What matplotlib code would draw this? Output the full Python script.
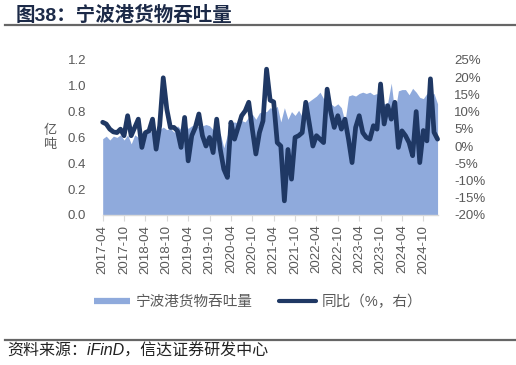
import numpy as np
import pandas as pd
from matplotlib import pyplot as plt
from matplotlib.lines import Line2D

plt.rcParams['font.family'] = ['Liberation Sans', 'Noto Sans CJK SC', 'DejaVu Sans']

# monthly data, 2017-04 .. 2025-02
months = pd.period_range('2017-04', '2025-02', freq='M').strftime('%Y-%m').tolist()

# 宁波港货物吞吐量（亿吨）
throughput = [0.59, 0.61, 0.58, 0.61, 0.60, 0.62, 0.58, 0.62, 0.55, 0.62,
              0.60, 0.64, 0.63, 0.65, 0.64, 0.65, 0.66, 0.68, 0.66, 0.67,
              0.64, 0.69, 0.66, 0.70, 0.67, 0.69, 0.70, 0.68, 0.69, 0.70,
              0.69, 0.66, 0.64, 0.63, 0.52, 0.62, 0.71, 0.72, 0.71, 0.73,
              0.72, 0.76, 0.78, 0.74, 0.79, 0.80, 0.80, 0.83, 0.82, 0.84,
              0.72, 0.83, 0.74, 0.80, 0.77, 0.81, 0.76, 0.86, 0.88, 0.90,
              0.92, 0.95, 0.90, 0.93, 0.86, 0.84, 0.86, 0.83, 0.72, 0.92,
              0.93, 0.92, 0.94, 0.95, 0.94, 0.95, 0.93, 0.94, 0.88, 0.86,
              0.87, 1.02, 0.79, 0.96, 0.97, 0.97, 0.93, 0.98, 0.95, 0.91,
              0.90, 0.94, 0.93, 0.94, 0.86]

# 同比（%）
yoy = [6.9, 6.4, 4.9, 4.1, 3.9, 4.9, 3.0, 8.8, 3.0, 5.4,
       7.8, -0.4, 3.9, 4.4, 7.8, -0.9, 5.9, 19.8, 10.7, 5.4,
       5.4, 4.4, -0.4, 8.3, -4.3, 3.0, 5.4, 9.3, 3.0, 0.0,
       2.5, -1.9, 7.8, -0.9, -6.7, -9.1, 6.9, 2.0, 5.4, 8.8,
       10.2, 12.7, 4.9, -2.3, 3.9, 7.3, 22.3, 13.3, 12.8, 1.0,
       0.0, -15.9, -1.0, -9.6, 2.5, 3.0, 3.9, 12.7, 6.5, 0.0,
       3.0, 2.0, 1.0, 16.5, 10.0, 5.4, 8.8, 4.9, 7.8, 2.0,
       -4.8, 5.4, 8.8, 3.9, 2.5, 2.0, 5.9, 4.9, 18.0, 6.4,
       11.7, 7.8, 12.7, -0.4, 4.4, 3.0, 1.0, -2.8, 10.0, -4.8,
       4.5, 1.5, 19.5, 4.0, 2.0]

gray = '#595959'
fill_c = '#8faadc'
line_c = '#1f3864'

x = np.arange(len(months))

fig = plt.figure(figsize=(5.16, 3.65), dpi=100)
ax = fig.add_axes([0.199, 0.411, 0.649, 0.425])
ax.fill_between(x, 0, throughput, color=fill_c, lw=0)
ax.set_xlim(0, len(months) - 1)
ax.set_ylim(0, 1.2)
ax.set_yticks(np.arange(0, 1.21, 0.2))
ax.set_yticklabels(['%.1f' % v for v in np.arange(0, 1.21, 0.2)])
ax.set_xticks(x[::6])
ax.set_xticklabels(months[::6], rotation=90)
ax.tick_params(axis='y', length=0, pad=12, labelsize=9.5, labelcolor=gray)
ax.tick_params(axis='x', length=4, width=0.8, color='#d9d9d9', pad=3,
               labelsize=9.5, labelcolor=gray)
for s in ['top', 'left', 'right']:
    ax.spines[s].set_visible(False)
ax.spines['bottom'].set_color('#d9d9d9')
ax.spines['bottom'].set_linewidth(1)

ax2 = ax.twinx()
ax2.plot(x, yoy, color=line_c, lw=3.4, solid_joinstyle='round',
         solid_capstyle='round', clip_on=False)
ax2.set_ylim(-20, 25)
ax2.set_yticks(range(-20, 26, 5))
ax2.set_yticklabels(['%d%%' % v for v in range(-20, 26, 5)])
ax2.tick_params(axis='y', length=0, pad=12, labelsize=9.5, labelcolor=gray)
for s in ax2.spines.values():
    s.set_visible(False)

# unit label, stacked vertically left of the tick labels
fig.text(50 / 516, 1 - 138 / 365, '亿\n吨', ha='center', va='center',
         fontsize=9.5, color=gray, linespacing=1.15)

# title and rules
fig.text(16 / 516, 1 - 15 / 365, '图38：宁波港货物吞吐量', ha='left', va='center',
         fontsize=14, fontweight='bold', color='#1c2a48')
fig.add_artist(Line2D([5 / 516, 1], [1 - 25 / 365] * 2, color='#666666', lw=1.6))
fig.add_artist(Line2D([5 / 516, 1], [1 - 340 / 365] * 2, color='#666666', lw=1.6))
fig.text(7 / 516, 1 - 351 / 365, '资料来源：iFinD，信达证券研发中心', ha='left', va='center',
         fontsize=11.5, style='italic', color='#222222')

handles = [Line2D([], [], color=fill_c, lw=4.5, solid_capstyle='butt'),
           Line2D([], [], color=line_c, lw=3, solid_capstyle='round')]
fig.legend(handles, ['宁波港货物吞吐量', '同比（%，右）'], loc='center',
           bbox_to_anchor=(0.5, 1 - 302 / 365), ncol=2, frameon=False,
           fontsize=10.5, labelcolor=gray, handlelength=2.5,
           handletextpad=0.4, columnspacing=1.8)

fig.savefig('out.png', dpi=100)
